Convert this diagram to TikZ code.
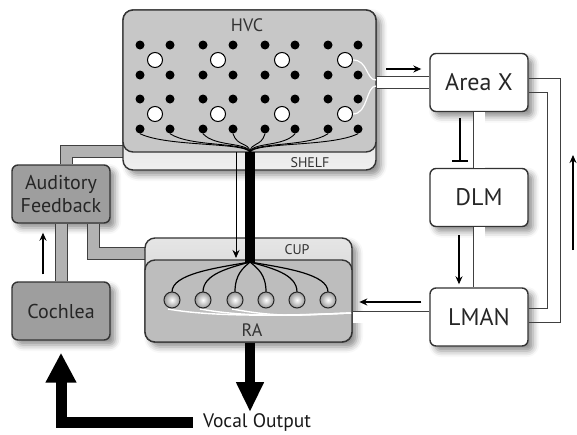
\documentclass[tikz,border=0pt]{standalone}
\usepackage{fontspec}
\setmainfont{PT Sans}
\usetikzlibrary{arrows.meta,shadows.blur}

\tikzset{
  shade/.style={blur shadow={shadow xshift=5pt, shadow yshift=-5pt, shadow blur radius=6pt, shadow opacity=45}},
  box/.style={draw=black!80, line width=1.4pt, rounded corners=6pt, minimum width=98pt, minimum height=58pt,
    fill=white, text=black!85, font=\fontsize{24}{26}\selectfont, shade},
  darkbox/.style={box, fill=black!38, font=\fontsize{20}{23}\selectfont, align=center},
  panel/.style={draw=black!80, line width=1.4pt, rounded corners=10pt, inner sep=0pt},
  pipe/.style={line width=1pt, draw=black!75, double=black!30, double distance=11pt},
  tube/.style={line width=0.8pt, draw=black!75, double=white, double distance=11pt},
  wire/.style={line width=0.8pt, draw=black!75},
  arr/.style={line width=1.4pt, -{Stealth[length=8pt, width=7pt]}},
  dot/.style={circle, fill=black, inner sep=0pt, minimum size=9pt},
  cell/.style={circle, draw=black, line width=1pt, fill=white, inner sep=0pt, minimum size=15pt},
  racell/.style={circle, draw=black!85, line width=1pt, inner sep=0pt, minimum size=16pt,
    shading=radial, inner color=white, outer color=black!40},
  fiber/.style={line width=0.9pt, draw=black},
  label/.style={text=black!80, inner sep=0pt}
}

\begin{document}
\begin{tikzpicture}[x=1pt, y=-1pt]
  \useasboundingbox (0,0) rectangle (577,434);

  % feedback pipes
  \node[darkbox] (af) at (61,194) {Auditory\\Feedback};
  \node[darkbox] (cochlea) at (61,311) {Cochlea};
  \coordinate (hvcfoc) at (250,152);
  \coordinate (rafoc) at (250,262);
  \draw[pipe] ([xshift=5pt]af.north) |- (140,151);
  \draw[pipe] ([xshift=32.5pt]af.south) |- (160,253.5);
  \draw[pipe] (cochlea.north) -- (af.south);

  % HVC with shelf
  \node[panel, shade, top color=black!24, bottom color=black!6, minimum width=253pt, minimum height=160pt] (shelf) at (249.5,90) {};
  \node[panel, fill=black!22, minimum width=253pt, minimum height=142pt] (hvc) at (249.5,81) {};
  \node[label, font=\fontsize{18}{20}\selectfont] (hvctxt) at (247,25) {HVC};
  \node[label, font=\fontsize{14}{16}\selectfont] (shelftxt) at (310,163) {SHELF};

  % right loop boxes
  \node[box] (areax) at (479,82.5) {Area X};
  \node[box] (dlm) at (479,197.5) {DLM};
  \node[box] (lman) at (479,317) {LMAN};
  \draw[tube] (hvc.east |- areax.west) -- (areax.west);
  \draw[tube] (areax.south) -- (dlm.north);
  \draw[tube] (dlm.south) -- (lman.north);
  \draw[wire] ([yshift=-5pt]lman.east) -- ++(32pt,0) |- ([yshift=4.5pt]areax.east);
  \draw[wire] ([yshift=9pt]lman.east) -- ++(19pt,0) |- ([yshift=-9.5pt]areax.east);

  % RA with cup
  \node[panel, shade, top color=black!10, bottom color=black!22, minimum width=207pt, minimum height=104pt] (cup) at (248.5,290) {};
  \node[panel, fill=black!26, minimum width=207pt, minimum height=82pt] (ra) at (248.5,301) {};
  \draw[tube] (lman.west) -- (lman.west -| ra.east);
  \node[label, font=\fontsize{14}{16}\selectfont] (cuptxt) at (297,250) {CUP};
  \node[label, font=\fontsize{18}{20}\selectfont] (ratxt) at (252,330) {RA};
  \foreach \x in {168,200,232}
    \draw[white, line width=1.4pt] (\x,309) .. controls ({\x+50},318) and (300,315) .. (351,313);

  % HVC cells and fibers
  \foreach \x [count=\c] in {140,170,203,233,265,295,328,358} {
    \foreach \y [count=\r] in {45,75,99,129}
      \node[dot] (d\r\c) at (\x,\y) {};
  }
  \foreach \x [count=\c] in {155,218,282,345} {
    \node[cell] (wa\c) at (\x,60) {};
    \node[cell] (wb\c) at (\x,114) {};
  }
  \foreach \x [count=\c] in {140,170,203,233,265,295,328,358}
    \draw[fiber] (d4\c.south) .. controls ({\x+0.25*(250-\x)},147) and ({250-0.06*(250-\x)},142) .. (hvcfoc);
  \draw[white, line width=1.2pt] (wa4.east) .. controls (368,60) and (366,80) .. (376,80);
  \draw[white, line width=1.2pt] (wb4.east) .. controls (368,114) and (366,86) .. (376,86);

  % HVC -> RA
  \draw[line width=10pt] (hvcfoc) -- (rafoc);
  \draw[arr, line width=1pt] ([xshift=-14pt]hvcfoc) -- ([shift={(-14pt,4pt)}]rafoc);
  \foreach \x [count=\c] in {172,203,235,266,297,328} {
    \draw[fiber, line width=1.2pt] (rafoc) .. controls ({250+0.45*(\x-250)},268) and (\x,274) .. (\x,292);
    \node[racell] (c\c) at (\x,300) {};
  }

  % vocal output
  \node[label, font=\fontsize{19.5}{21}\selectfont, text=black!90] (vocal) at (257,422) {Vocal Output};
  \coordinate (vtip) at (250,412);
  \coordinate (ctip) at ([yshift=-12pt]cochlea.south);
  \draw[line width=10pt, -{Triangle[width=26pt, length=30pt]}] (ra.south -| rafoc) -- (vtip);
  \draw[line width=11pt, -{Triangle[width=29pt, length=30pt]}] ([xshift=-10pt]vocal.west) -| (ctip);

  % small arrows
  \draw[arr] ([shift={(-18pt,7pt)}]cochlea.north) -- ([shift={(-18pt,-9pt)}]af.south);
  \draw[arr] ([shift={(-43pt,13.5pt)}]areax.west) -- ([shift={(-8pt,13.5pt)}]areax.west);
  \draw[line width=1.4pt, -{Bar[width=16pt]}] ([shift={(-19pt,-6pt)}]areax.south) -- ([shift={(-19pt,6pt)}]dlm.north);
  \draw[arr] ([shift={(-20pt,-8pt)}]dlm.south) -- ([shift={(-20pt,3pt)}]lman.north);
  \draw[arr] ([shift={(-8pt,15pt)}]lman.west) -- ([shift={(-70pt,15pt)}]lman.west);
  \coordinate (loopa) at (573,250);
  \coordinate (loopb) at (573,155);
  \draw[arr] (loopa) -- (loopb);
\end{tikzpicture}
\end{document}
